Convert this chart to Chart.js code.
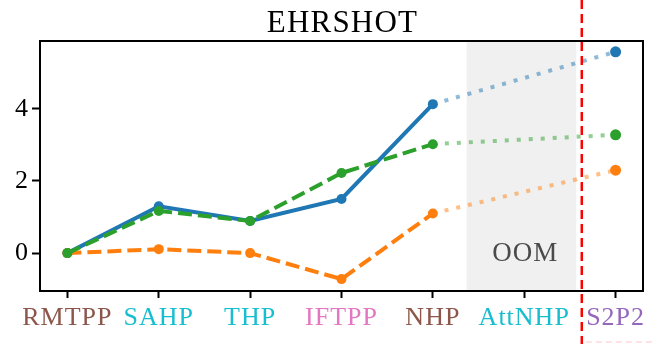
<!DOCTYPE html>
<html>
<head>
<meta charset="utf-8">
<title>EHRSHOT</title>
<script src="https://cdn.jsdelivr.net/npm/chart.js@4.4.1/dist/chart.umd.min.js"></script>
<style>
  html, body { margin: 0; padding: 0; background: #ffffff; }
  #wrap { width: 652px; height: 344px; }
</style>
</head>
<body>
<div id="wrap"><canvas id="c" width="652" height="344"></canvas></div>
<script>
// Models along the x axis and the colour of each label
const models = ['RMTPP', 'SAHP', 'THP', 'IFTPP', 'NHP', 'AttNHP', 'S2P2'];
const labelColors = ['#8c564b', '#17becf', '#17becf', '#e377c2', '#8c564b', '#17becf', '#9467bd'];

// Scores per model (AttNHP ran out of memory, so it has no value)
const blueSeries   = [0, 1.30, 0.89, 1.50, 4.13, null, 5.58];
const orangeSeries = [0, 0.11, 0.00, -0.72, 1.10, null, 2.30];
const greenSeries  = [0, 1.17, 0.89, 2.22, 3.02, null, 3.28];

const yTicks = [0, 2, 4];
const oomLabel = 'OOM';
const titleText = 'EHRSHOT';

const FONT = "'Liberation Serif', 'DejaVu Serif', serif";
const lastRun = 4;     // NHP: last model in the ordinary run
const s2p2 = 6;        // S2P2 column
const oomSpan = [4.37, 5.57];
const dividerX = 5.63;

function rgba(hex, a) {
  const n = parseInt(hex.slice(1), 16);
  return `rgba(${(n >> 16) & 255},${(n >> 8) & 255},${n & 255},${a})`;
}

function buildDatasets(values, color, dash, order) {
  const main = [];
  for (let i = 0; i <= lastRun; i++) main.push({ x: i, y: values[i] });
  const ext = [{ x: lastRun, y: values[lastRun] }, { x: s2p2, y: values[s2p2] }];
  return [
    {
      data: main, borderColor: color, backgroundColor: color,
      borderWidth: 4, borderDash: dash, pointRadius: 5,
      pointBorderWidth: 0, pointBackgroundColor: color, tension: 0, order
    },
    {
      data: ext, borderColor: rgba(color, 0.5), backgroundColor: color,
      borderWidth: 4, borderDash: [4, 8], pointRadius: [0, 5.5],
      pointBorderWidth: 0, pointBackgroundColor: color, tension: 0, order: order + 0.5
    }
  ];
}

const datasets = [
  ...buildDatasets(blueSeries, '#1f77b4', [], 3),
  ...buildDatasets(orangeSeries, '#ff7f0e', [14, 6], 2),
  ...buildDatasets(greenSeries, '#2ca02c', [14, 6], 1)
];

// Slightly wider letter spacing for all canvas text
const textSpacing = {
  id: 'textSpacing',
  beforeDraw(chart) { chart.ctx.letterSpacing = '1px'; }
};

// Grey out-of-memory band with its label, behind the lines
const oomBand = {
  id: 'oomBand',
  beforeDatasetsDraw(chart) {
    const { ctx, chartArea, scales } = chart;
    const x0 = scales.x.getPixelForValue(oomSpan[0]);
    const x1 = scales.x.getPixelForValue(oomSpan[1]);
    ctx.save();
    ctx.fillStyle = '#f0f0f0';
    ctx.fillRect(x0, chartArea.top, x1 - x0, chartArea.bottom - chartArea.top);
    ctx.fillStyle = '#4a4a4a';
    ctx.font = `27px ${FONT}`;
    ctx.letterSpacing = '1px';
    ctx.textAlign = 'center';
    ctx.textBaseline = 'alphabetic';
    ctx.fillText(oomLabel, scales.x.getPixelForValue(5) + 1, scales.y.getPixelForValue(-0.23));
    ctx.restore();
  }
};

// Frame, title and the dashed divider in front of S2P2
const frameAndTitle = {
  id: 'frameAndTitle',
  afterDraw(chart) {
    const { ctx, chartArea, scales } = chart;
    ctx.save();
    ctx.strokeStyle = '#000000';
    ctx.lineWidth = 2;
    ctx.strokeRect(chartArea.left, chartArea.top,
      chartArea.right - chartArea.left, chartArea.bottom - chartArea.top);

    ctx.fillStyle = '#000000';
    ctx.font = `31px ${FONT}`;
    ctx.letterSpacing = '1.2px';
    ctx.textAlign = 'center';
    ctx.textBaseline = 'alphabetic';
    ctx.fillText(titleText, (chartArea.left + chartArea.right) / 2 + 1, 32);

    const xd = scales.x.getPixelForValue(dividerX);
    ctx.strokeStyle = '#ff0000';
    ctx.lineWidth = 2.5;
    ctx.setLineDash([9, 5]);
    ctx.beginPath();
    ctx.moveTo(xd, 0);
    ctx.lineTo(xd, chart.height);
    ctx.stroke();

    ctx.strokeStyle = 'rgba(255,0,0,0.15)';
    ctx.lineWidth = 1.5;
    ctx.setLineDash([6, 4]);
    ctx.beginPath();
    ctx.moveTo(xd + 4, chart.height - 2);
    ctx.lineTo(chart.width, chart.height - 2);
    ctx.stroke();
    ctx.restore();
  }
};

new Chart(document.getElementById('c'), {
  type: 'line',
  data: { datasets },
  options: {
    responsive: false,
    animation: false,
    devicePixelRatio: 1,
    layout: { padding: { top: 41, right: 9, left: 0, bottom: 0 } },
    plugins: { legend: { display: false }, tooltip: { enabled: false }, title: { display: false } },
    scales: {
      x: {
        type: 'linear', min: -0.3, max: 6.3,
        afterBuildTicks(scale) { scale.ticks = models.map((_, i) => ({ value: i })); },
        afterFit(scale) { scale.height = 53; },
        grid: { display: true, drawOnChartArea: false, drawTicks: true, tickLength: 7, tickWidth: 2, tickColor: '#000000' },
        border: { display: false },
        ticks: {
          autoSkip: false, maxRotation: 0, padding: 5,
          font: { family: FONT, size: 26 },
          color: (c) => labelColors[c.index],
          callback: (v) => models[v]
        }
      },
      y: {
        type: 'linear', min: -1.05, max: 5.88,
        afterBuildTicks(scale) { scale.ticks = yTicks.map(v => ({ value: v })); },
        afterFit(scale) { scale.width = 40; },
        grid: { display: true, drawOnChartArea: false, drawTicks: true, tickLength: 8, tickWidth: 2, tickColor: '#000000' },
        border: { display: false },
        ticks: {
          padding: 3,
          font: { family: FONT, size: 26 },
          color: '#000000',
          callback: (v) => String(v)
        }
      }
    }
  },
  plugins: [textSpacing, oomBand, frameAndTitle]
});
</script>
</body>
</html>
